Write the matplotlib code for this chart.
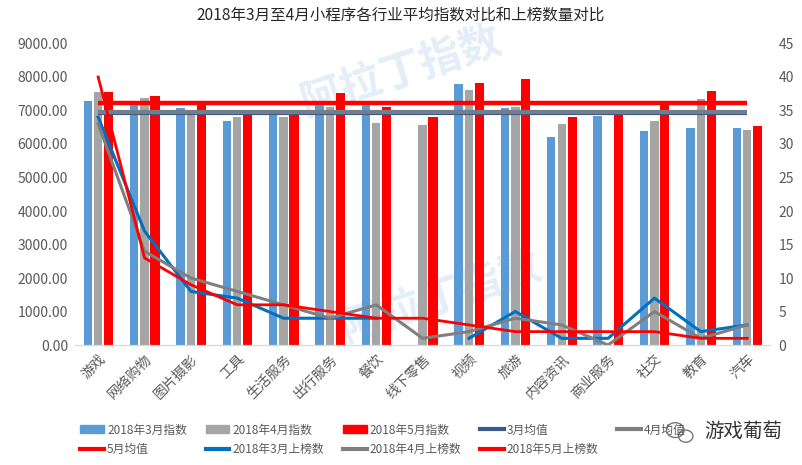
import numpy as np
import matplotlib.pyplot as plt
from matplotlib.ticker import FormatStrFormatter
from matplotlib.lines import Line2D
from matplotlib.patches import Patch, Ellipse

plt.rcParams['font.family'] = ['Noto Sans CJK SC', 'DejaVu Sans']

# categories and values
categories = ['游戏', '网络购物', '图片摄影', '工具', '生活服务', '出行服务', '餐饮', '线下零售',
              '视频', '旅游', '内容资讯', '商业服务', '社交', '教育', '汽车']
index_mar = [7290, 7250, 7060, 6680, 6950, 7160, 7150, 0, 7790, 7060, 6220, 6850, 6400, 6490, 6490]
index_apr = [7560, 7360, 7000, 6800, 6800, 7110, 6640, 6570, 7610, 7100, 6590, 0, 6700, 7340, 6420]
index_may = [7540, 7440, 7200, 7000, 6950, 7510, 7090, 6800, 7810, 7930, 6800, 6950, 7180, 7590, 6550]
mean_mar = 6920
mean_apr = 6950
mean_may = 7215
rank_mar = [34, 17, 8, 7, 4, 4, 4, np.nan, 1, 5, 1, 1, 7, 2, 3]
rank_apr = [33, 14, 10, 8, 6, 4, 6, 1, 2, 4, 3, 0, 5, 1, 3]
rank_may = [40, 13, 9, 6, 6, 5, 4, 4, 3, 2, 2, 2, 2, 1, 1]

c_blue = '#5B9BD5'
c_gray = '#A5A5A5'
c_red = '#FF0000'
c_navy = '#3A5A8C'
c_gray2 = '#7F7F7F'
c_blue2 = '#0070C0'
txt = '#595959'

fig = plt.figure(figsize=(8.02, 4.65), dpi=100)
ax = fig.add_axes([0.0935, 0.258, 0.867, 0.6485])
ax2 = ax.twinx()

x = np.arange(len(categories))
w = 0.18
ax.bar(x - 0.225, index_mar, w, color=c_blue, zorder=2)
ax.bar(x, index_apr, w, color=c_gray, zorder=2)
ax.bar(x + 0.225, index_may, w + 0.02, color=c_red, zorder=2)

ax.plot(x, [mean_mar] * len(x), color=c_navy, lw=3, zorder=3, solid_capstyle='butt')
ax.plot(x, [mean_apr] * len(x), color='#747E8A', lw=3, zorder=3, solid_capstyle='butt')
ax.plot(x, [mean_may] * len(x), color=c_red, lw=3.2, zorder=3, solid_capstyle='butt')

ax2.plot(x, rank_mar, color=c_blue2, lw=2.2)
ax2.plot(x, rank_apr, color=c_gray2, lw=2.2)
ax2.plot(x, rank_may, color=c_red, lw=2)

ax.set_xlim(-0.5, len(x) - 0.5)
ax.set_ylim(0, 9000)
ax.set_yticks(np.arange(0, 9001, 1000))
ax.yaxis.set_major_formatter(FormatStrFormatter('%.2f'))
ax2.set_ylim(0, 45)
ax2.set_yticks(np.arange(0, 46, 5))

ax.set_xticks(x)
ax.set_xticklabels(categories, rotation=45, ha='right', rotation_mode='anchor')

for a in (ax, ax2):
    for s in ('top', 'left', 'right'):
        a.spines[s].set_visible(False)
    a.spines['bottom'].set_color('#D9D9D9')
    a.tick_params(length=0, labelsize=10, colors=txt)
ax.tick_params(axis='x', pad=5, labelsize=10)
ax.tick_params(axis='y', pad=5)
ax2.tick_params(axis='y', pad=6)

# faint watermark
fig.text(0.50, 0.845, '阿拉丁指数', fontsize=30, color='#E4EEF8', rotation=18,
         ha='center', va='center', zorder=0, fontweight='bold')
fig.text(0.55, 0.36, '阿拉丁指数', fontsize=30, color='#E4EEF8', rotation=18,
         ha='center', va='center', zorder=0, fontweight='bold')
ax.set_zorder(1)
ax2.set_zorder(2)
ax.patch.set_alpha(0)

fig.text(0.5, 0.967, '2018年3月至4月小程序各行业平均指数对比和上榜数量对比',
         ha='center', va='center', fontsize=11.2, color='#262626')

handles = [
    Patch(color=c_blue), Line2D([], [], color=c_red, lw=3),
    Patch(color=c_gray), Line2D([], [], color=c_blue2, lw=3),
    Patch(color=c_red), Line2D([], [], color=c_gray2, lw=3),
    Line2D([], [], color=c_navy, lw=3), Line2D([], [], color=c_red, lw=3),
    Line2D([], [], color=c_gray2, lw=3),
]
labels = ['2018年3月指数', '5月均值', '2018年4月指数', '2018年3月上榜数',
          '2018年5月指数', '2018年4月上榜数', '3月均值', '2018年5月上榜数', '4月均值']
fig.legend(handles, labels, ncol=5, loc='upper left', bbox_to_anchor=(0.093, 0.102),
           frameon=False, fontsize=8.5, handlelength=2.0, handleheight=0.7,
           handletextpad=0.25, columnspacing=1.6, labelspacing=0.55, borderpad=0,
           labelcolor=txt)

# wechat-like badge bottom right
fig.add_artist(Ellipse((0.842, 0.075), 0.022, 0.032, transform=fig.transFigure,
                       fill=False, ec='#777777', lw=1))
fig.add_artist(Ellipse((0.855, 0.062), 0.018, 0.026, transform=fig.transFigure,
                       fill=False, ec='#777777', lw=1))
fig.text(0.975, 0.072, '游戏葡萄', ha='right', va='center', fontsize=14, color='#333333')

fig.savefig('out.png', dpi=100)
